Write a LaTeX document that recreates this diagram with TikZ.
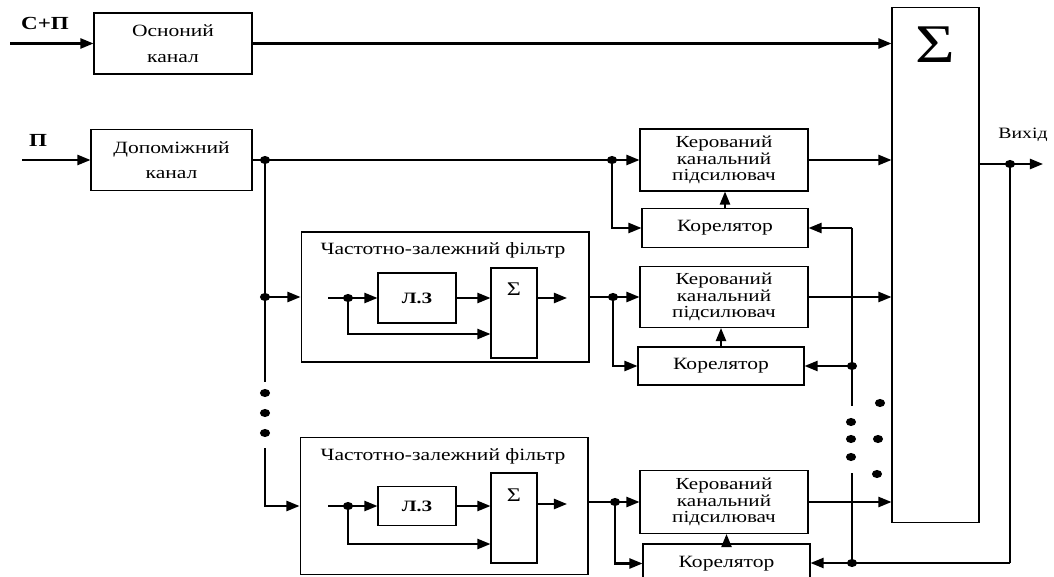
\documentclass[tikz,border=0pt]{standalone}
\usepackage{fontspec}
\setmainfont{Liberation Serif}[FakeStretch=1.25]
\usetikzlibrary{arrows.meta}

\newcommand{\tochka}[1]{\fill (#1) ellipse [x radius=2.9pt, y radius=2.3pt];}

\begin{document}
\begin{tikzpicture}[x=0.02cm, y=-0.02cm,
  blok/.style={draw, line width=0.6pt, inner sep=0pt, align=center,
    font=\fontsize{9.6}{9.2}\selectfont},
  wire/.style={line width=1.2pt},
  arr/.style={wire, -{Triangle[length=7.5pt, width=5.8pt]}},
  tekst/.style={inner sep=0pt, font=\fontsize{9.8}{8.2}\selectfont}]
  \useasboundingbox (0,0) rectangle (1054,577);

  % vkhody
  \node[blok, minimum width=3.16cm, minimum height=1.22cm,
    font=\fontsize{9.8}{14.5}\selectfont] (osn) at (173,43.5) {Осноний\\канал};
  \node[blok, minimum width=3.22cm, minimum height=1.22cm,
    font=\fontsize{9.8}{14.5}\selectfont] (dop) at (171.5,160) {Допоміжний\\канал};
  \node[tekst, font=\fontsize{10.5}{10}\selectfont\bfseries] (lsp) at (45,23) {С+П};
  \node[tekst, font=\fontsize{10.5}{10}\selectfont\bfseries] (lp) at (38,140) {П};
  \coordinate (in1) at (10,43.5);
  \coordinate (in2) at (22,160);
  \draw[arr] (in1) -- (osn.west);
  \draw[arr] (in2) -- (dop.west);

  % summator
  \node[blok, minimum width=1.74cm, minimum height=10.32cm] (sum) at (935.5,265) {};
  \node[tekst, font=\fontsize{31}{31}\selectfont] (sg) at (935,45) {Σ};
  \draw[arr] (osn.east) -- (osn.east -| sum.west);

  % kanal 1
  \node[blok, minimum width=3.36cm, minimum height=1.24cm] (amp1) at (724,160)
    {Керований\\канальний\\підсилювач};
  \node[blok, minimum width=3.32cm, minimum height=0.78cm,
    font=\fontsize{9.8}{9.8}\selectfont] (cor1) at (725,228) {Корелятор};
  \coordinate (j1) at (265,160);
  \coordinate (j2) at (612,160);
  \draw[wire] (dop.east) -- (j1) -- (j2);
  \draw[arr] (j2) -- (amp1.west);
  \draw[arr] (j2) |- (cor1.west);
  \draw[arr] (cor1.north) -- (cor1.north |- amp1.south);
  \draw[arr] (amp1.east) -- (amp1.east -| sum.west);

  % filtr 1
  \node[blok, minimum width=5.76cm, minimum height=2.6cm] (filt1) at (445,297) {};
  \node[tekst] (t1) at (443,250) {Частотно-залежний фільтр};
  \node[blok, minimum width=1.56cm, minimum height=1cm,
    font=\fontsize{9}{9}\selectfont\bfseries] (lz1) at (417,298) {Л.З};
  \node[blok, minimum width=0.92cm, minimum height=1.8cm] (sig1) at (514,313) {};
  \node[tekst, font=\fontsize{11}{11}\selectfont] (s1) at (514,289) {Σ};
  \coordinate (f1in) at (328,298);
  \coordinate (k1) at (348,298);
  \coordinate (k1b) at (348,334);
  \coordinate (f1out) at (567,298);
  \draw[wire] (f1in) -- (k1);
  \draw[arr] (k1) -- (lz1.west);
  \draw[arr] (lz1.east) -- (lz1.east -| sig1.west);
  \draw[arr] (k1) -- (k1b) -- (k1b -| sig1.west);
  \draw[arr] (sig1.east |- f1out) -- (f1out);

  % kanal 2
  \node[blok, minimum width=3.36cm, minimum height=1.22cm] (amp2) at (724,297)
    {Керований\\канальний\\підсилювач};
  \node[blok, minimum width=3.32cm, minimum height=0.76cm,
    font=\fontsize{9.8}{9.8}\selectfont] (cor2) at (721,366) {Корелятор};
  \coordinate (j3) at (265,297);
  \coordinate (j4) at (613,297);
  \draw[arr] (j3) -- (filt1.west);
  \draw[wire] (filt1.east) -- (j4);
  \draw[arr] (j4) -- (amp2.west);
  \draw[arr] (j4) |- (cor2.west);
  \draw[arr] (cor2.north) -- (cor2.north |- amp2.south);
  \draw[arr] (amp2.east) -- (amp2.east -| sum.west);

  % filtr N
  \node[blok, minimum width=5.76cm, minimum height=2.74cm] (filt3) at (444,506) {};
  \node[tekst] (t3) at (443,456) {Частотно-залежний фільтр};
  \node[blok, minimum width=1.56cm, minimum height=0.78cm,
    font=\fontsize{9}{9}\selectfont\bfseries] (lz3) at (417,506) {Л.З};
  \node[blok, minimum width=0.92cm, minimum height=1.8cm] (sig3) at (514,518) {};
  \node[tekst, font=\fontsize{11}{11}\selectfont] (s3) at (514,495) {Σ};
  \coordinate (f3in) at (328,506);
  \coordinate (k3) at (348,506);
  \coordinate (k3b) at (348,544);
  \coordinate (f3out) at (567,504);
  \draw[wire] (f3in) -- (k3);
  \draw[arr] (k3) -- (lz3.west);
  \draw[arr] (lz3.east) -- (lz3.east -| sig3.west);
  \draw[arr] (k3) -- (k3b) -- (k3b -| sig3.west);
  \draw[arr] (sig3.east |- f3out) -- (f3out);

  % kanal N
  \node[blok, minimum width=3.36cm, minimum height=1.26cm] (amp3) at (724,502)
    {Керований\\канальний\\підсилювач};
  \node[blok, minimum width=3.34cm, minimum height=0.78cm,
    font=\fontsize{9.8}{9.8}\selectfont] (cor3) at (726.5,563.5) {Корелятор};
  \coordinate (bus1) at (265,382);
  \coordinate (bus2) at (265,448);
  \coordinate (j5) at (615,502);
  \draw[line width=0.9pt] (j1) -- (bus1);
  \draw[arr] (bus2) |- (filt3.west);
  \draw[wire] (j5 -| filt3.east) -- (j5);
  \draw[arr] (j5) -- (amp3.west);
  \draw[arr] (j5) |- (cor3.west);
  \draw[arr] (cor3.north) -- (cor3.north |- amp3.south);
  \draw[arr] (amp3.east) -- (amp3.east -| sum.west);

  % vykhid i zvorotnyi zviazok
  \coordinate (o1) at (1010,164);
  \coordinate (vyh) at (1043,164);
  \coordinate (fb) at (1010,563);
  \coordinate (f0) at (852,228);
  \coordinate (f2) at (852,366);
  \coordinate (f3) at (852,563);
  \coordinate (vtop) at (852,406);
  \coordinate (vbot) at (852,473);
  \node[tekst, font=\fontsize{9}{9}\selectfont] (lvyh) at (1023,135) {Вихід};
  \draw[wire] (sum.east |- o1) -- (o1);
  \draw[arr] (o1) -- (vyh);
  \draw[line width=0.9pt] (o1) -- (fb);
  \draw[wire] (fb) -- (f3);
  \draw[arr] (f3) -- (f3 -| cor3.east);
  \draw[arr] (f0) -- (cor1.east);
  \draw[wire] (f0) -- (vtop);
  \draw[arr] (f2) -- (cor2.east);
  \draw[wire] (vbot) -- (f3);

  % tochky
  \foreach \p in {j1,j2,j3,j4,j5,k1,k3,o1,f2,f3} {\tochka{\p}}
  \foreach \yy in {393,413,433} {\tochka{265,\yy}}
  \foreach \yy in {422,439,457} {\tochka{851,\yy}}
  \tochka{880,403} \tochka{878,439} \tochka{877,474}
\end{tikzpicture}
\end{document}
